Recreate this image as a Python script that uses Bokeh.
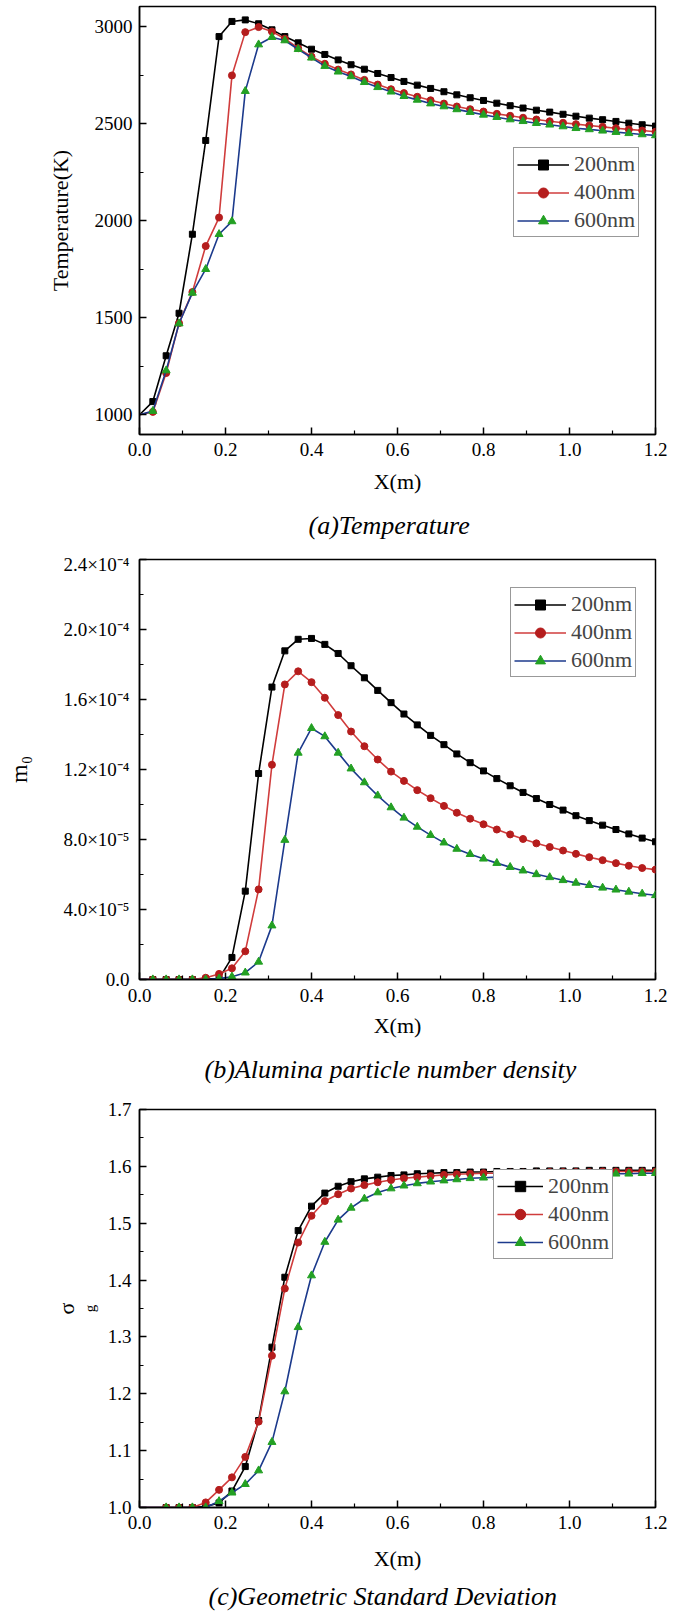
from bokeh.plotting import figure
from bokeh.layouts import column
from bokeh.models import FixedTicker, Legend, LegendItem, NumeralTickFormatter, Title
from bokeh.embed import file_html
from bokeh.resources import INLINE

# ---------------- data ----------------
X = [0.000, 0.031, 0.062, 0.092, 0.123, 0.154, 0.185, 0.215, 0.246, 0.277,
     0.308, 0.338, 0.369, 0.400, 0.431, 0.462, 0.492, 0.523, 0.554, 0.585,
     0.615, 0.646, 0.677, 0.708, 0.738, 0.769, 0.800, 0.831, 0.862, 0.892,
     0.923, 0.954, 0.985, 1.015, 1.046, 1.077, 1.108, 1.138, 1.169, 1.200]

labels = ["200nm", "400nm", "600nm"]

# (a) Temperature (K)
T_200 = [1000, 1068, 1304, 1523, 1930, 2413, 2948, 3026, 3034, 3014,
         2983, 2948, 2916, 2883, 2856, 2828, 2803, 2780, 2758, 2737,
         2717, 2698, 2681, 2664, 2648, 2633, 2619, 2605, 2592, 2580,
         2569, 2559, 2548, 2538, 2528, 2520, 2511, 2502, 2494, 2487]
T_400 = [1000, 1015, 1215, 1472, 1632, 1869, 2016, 2748, 2971, 2997,
         2974, 2937, 2888, 2845, 2808, 2778, 2753, 2725, 2701, 2677,
         2657, 2638, 2620, 2603, 2588, 2574, 2562, 2550, 2540, 2530,
         2521, 2512, 2504, 2497, 2490, 2483, 2476, 2470, 2464, 2458]
T_600 = [1000, 1019, 1228, 1470, 1628, 1750, 1930, 1996, 2667, 2907,
         2945, 2928, 2883, 2839, 2796, 2767, 2743, 2713, 2687, 2664,
         2641, 2622, 2603, 2588, 2573, 2559, 2545, 2533, 2521, 2512,
         2502, 2494, 2485, 2476, 2470, 2463, 2456, 2450, 2444, 2439]

# (b) number density m0, in units of 1e-5
M_200 = [0, 0, 0, 0, 0, 0.03, 0.05, 1.26, 5.05, 11.77,
         16.71, 18.78, 19.44, 19.49, 19.15, 18.63, 17.93, 17.24, 16.52, 15.82,
         15.17, 14.55, 13.95, 13.42, 12.89, 12.39, 11.92, 11.48, 11.07, 10.69,
         10.34, 10.00, 9.68, 9.36, 9.08, 8.82, 8.57, 8.32, 8.08, 7.87]
M_400 = [0, 0, 0, 0, 0, 0.10, 0.32, 0.64, 1.61, 5.15,
         12.27, 16.86, 17.61, 16.99, 16.10, 15.11, 14.17, 13.33, 12.57, 11.88,
         11.35, 10.82, 10.36, 9.92, 9.53, 9.19, 8.87, 8.57, 8.29, 8.03,
         7.78, 7.57, 7.37, 7.18, 6.99, 6.82, 6.65, 6.50, 6.37, 6.28]
M_600 = [0, 0, 0, 0, 0, 0, 0.05, 0.16, 0.39, 1.01,
         3.08, 7.97, 12.95, 14.36, 13.89, 12.95, 12.05, 11.26, 10.51, 9.83,
         9.24, 8.72, 8.25, 7.82, 7.46, 7.16, 6.90, 6.65, 6.42, 6.22,
         6.01, 5.84, 5.67, 5.52, 5.39, 5.24, 5.13, 5.01, 4.90, 4.81]

# (c) geometric standard deviation
S_200 = [1.0, 1.0, 1.0, 1.0, 1.0, 1.002, 1.008, 1.029, 1.072, 1.153,
         1.282, 1.405, 1.487, 1.530, 1.553, 1.565, 1.573, 1.578, 1.581, 1.584,
         1.585, 1.587, 1.588, 1.589, 1.589, 1.590, 1.590, 1.591, 1.591, 1.591,
         1.592, 1.592, 1.592, 1.592, 1.593, 1.593, 1.593, 1.593, 1.593, 1.593]
S_400 = [1.0, 1.0, 1.0, 1.0, 1.0, 1.009, 1.031, 1.053, 1.089, 1.151,
         1.267, 1.385, 1.466, 1.513, 1.539, 1.551, 1.561, 1.567, 1.572, 1.576,
         1.579, 1.581, 1.583, 1.585, 1.586, 1.587, 1.588, 1.588, 1.589, 1.589,
         1.589, 1.590, 1.590, 1.590, 1.590, 1.591, 1.591, 1.591, 1.591, 1.591]
S_600 = [1.0, 1.0, 1.0, 1.0, 1.0, 1.0, 1.011, 1.026, 1.041, 1.065,
         1.115, 1.204, 1.317, 1.408, 1.467, 1.506, 1.527, 1.543, 1.554, 1.561,
         1.566, 1.570, 1.573, 1.575, 1.577, 1.579, 1.580, 1.581, 1.582, 1.584,
         1.584, 1.585, 1.585, 1.586, 1.586, 1.587, 1.587, 1.587, 1.588, 1.588]

x_ticks = [0.0, 0.2, 0.4, 0.6, 0.8, 1.0, 1.2]
x_minor = [0.1, 0.3, 0.5, 0.7, 0.9, 1.1]
ya_ticks = [1000, 1500, 2000, 2500, 3000]
ya_minor = [1250, 1750, 2250, 2750]
yb_ticks = [0, 4, 8, 12, 16, 20, 24]
yb_minor = [2, 6, 10, 14, 18, 22]
yb_labels = ["0.0", "4.0×10⁻⁵", "8.0×10⁻⁵", "1.2×10⁻⁴", "1.6×10⁻⁴", "2.0×10⁻⁴", "2.4×10⁻⁴"]
yc_ticks = [1.0, 1.1, 1.2, 1.3, 1.4, 1.5, 1.6, 1.7]
yc_minor = [1.05, 1.15, 1.25, 1.35, 1.45, 1.55, 1.65]

captions = ["(a)Temperature", "(b)Alumina particle number density",
            "(c)Geometric Standard Deviation"]

# ---------------- style ----------------
FONT = "Liberation Serif"
LINE_COLORS = ["#000000", "#d03c3c", "#1c3a8c"]
MARK_COLORS = ["#000000", "#b51d1d", "#23a023"]
MARKERS = ["square", "circle", "triangle"]
MARK_SIZES = [6, 7, 8]
W = 675


def make_fig(height, mbl, mbr, mbt, mbb, y_range):
    p = figure(width=W, height=height, x_range=(0, 1.2), y_range=y_range,
               output_backend="svg", toolbar_location=None,
               min_border_left=mbl, min_border_right=mbr,
               min_border_top=mbt, min_border_bottom=mbb)
    p.grid.visible = False
    p.outline_line_color = "black"
    p.outline_line_width = 1.5
    p.outline_line_alpha = 1.0
    p.background_fill_color = "white"
    p.border_fill_color = "white"
    for ax in (p.xaxis[0], p.yaxis[0]):
        ax.axis_line_width = 1.5
        ax.axis_line_color = "black"
        ax.major_tick_in = 7
        ax.major_tick_out = 0
        ax.minor_tick_in = 4
        ax.minor_tick_out = 0
        ax.major_tick_line_width = 1.5
        ax.minor_tick_line_width = 1.2
        ax.major_tick_line_color = "black"
        ax.minor_tick_line_color = "black"
        ax.major_label_text_font = FONT
        ax.major_label_text_font_size = "19px"
        ax.major_label_text_color = "black"
        ax.axis_label_text_font = FONT
        ax.axis_label_text_font_style = "normal"
        ax.axis_label_text_color = "black"
    p.xaxis[0].ticker = FixedTicker(ticks=x_ticks, minor_ticks=x_minor)
    p.xaxis[0].formatter = NumeralTickFormatter(format="0.0")
    p.xaxis[0].axis_label = "X(m)"
    p.xaxis[0].axis_label_text_font_size = "22px"
    return p


def add_series(p, ys, start, legend_xy, glyph_w, glyph_h):
    items = []
    for i, y in enumerate(ys):
        lr = p.line(X, y, line_color=LINE_COLORS[i], line_width=1.6)
        sr = p.scatter(X[start:], y[start:], marker=MARKERS[i], size=MARK_SIZES[i],
                       fill_color=MARK_COLORS[i], line_color=MARK_COLORS[i])
        items.append(LegendItem(label=labels[i], renderers=[lr, sr]))
    leg = Legend(items=items, location=legend_xy,
                 label_text_font=FONT, label_text_font_size="22px",
                 glyph_width=glyph_w, glyph_height=glyph_h, label_standoff=5,
                 padding=3, spacing=2, margin=0,
                 border_line_color="#333333", border_line_width=1,
                 background_fill_color="white", background_fill_alpha=1.0)
    p.add_layout(leg)


def add_caption(p, text, offset, standoff):
    p.add_layout(Title(text=text, align="left", offset=offset, standoff=standoff,
                       text_font=FONT, text_font_style="italic", text_font_size="26px",
                       text_color="black", vertical_align="middle"), "below")


# ---------------- (a) ----------------
pa = make_fig(553, 132, 13, 6, 119, (898.5, 3103))
pa.yaxis[0].ticker = FixedTicker(ticks=ya_ticks, minor_ticks=ya_minor)
pa.yaxis[0].formatter = NumeralTickFormatter(format="0")
pa.yaxis[0].axis_label = "Temperature(K)"
pa.yaxis[0].axis_label_text_font_size = "22px"
pa.yaxis[0].major_label_standoff = 7
pa.yaxis[0].axis_label_standoff = 19
pa.xaxis[0].major_label_standoff = 8
pa.xaxis[0].axis_label_standoff = 10
add_series(pa, [T_200, T_400, T_600], 1, (374, 197), 52, 25)
add_caption(pa, captions[0], 169, 26)

# ---------------- (b) ----------------
pb = make_fig(544, 132, 13, 6, 112, (0, 24))
pb.yaxis[0].ticker = FixedTicker(ticks=yb_ticks, minor_ticks=yb_minor)
pb.yaxis[0].major_label_overrides = {t: s for t, s in zip(yb_ticks, yb_labels)}
pb.yaxis[0].axis_label = "m₀"
pb.yaxis[0].axis_label_text_font_size = "24px"
pb.yaxis[0].major_label_standoff = 10
pb.yaxis[0].axis_label_standoff = 28
pb.xaxis[0].major_label_standoff = 9
pb.xaxis[0].axis_label_standoff = 8
add_series(pb, [M_200, M_400, M_600], 1, (371, 302), 52, 25)
add_caption(pb, captions[1], 65, 26)

# ---------------- (c) ----------------
pc = make_fig(521, 139, 20, 12, 104, (1.0, 1.7))
pc.yaxis[0].ticker = FixedTicker(ticks=yc_ticks, minor_ticks=yc_minor)
pc.yaxis[0].formatter = NumeralTickFormatter(format="0.0")
pc.yaxis[0].axis_label = "g"
pc.yaxis[0].axis_label_text_font_size = "15px"
pc.yaxis[0].major_label_standoff = 8
pc.yaxis[0].axis_label_standoff = 7
pc.add_layout(Title(text="σ", align="center", standoff=0, vertical_align="bottom",
                    text_font=FONT, text_font_style="normal", text_font_size="22px",
                    text_color="black"), "left")
pc.xaxis[0].major_label_standoff = 8
pc.xaxis[0].axis_label_standoff = 14
add_series(pc, [S_200, S_400, S_600], 2, (354, 248), 46, 26)
add_caption(pc, captions[2], 69, 14)

layout = column(pa, pb, pc, spacing=0)
open("out.html", "w").write(file_html(layout, INLINE))
